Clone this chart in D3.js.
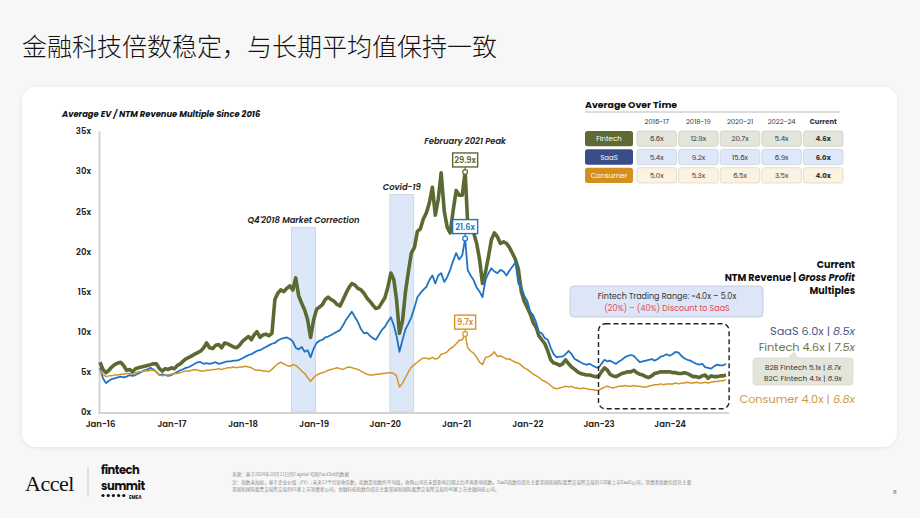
<!DOCTYPE html>
<meta charset="utf-8">
<html>
<head>
    <script src="https://d3js.org/d3.v7.js"></script>
    <style>
        body { margin: 0; background: #f7f7f7; }
        text { font-family: Poppins, Inter, "Noto Sans", sans-serif; }
    </style>
</head>
<body>
<script>
// semi-monthly readings (1st and 16th of each month), Jan 2016 - Oct 2024
var fintech = [
    6.2,5.3,4.9,5.2,5.6,5.9,6.1,6.2,5.8,5.2,5.3,5.0,5.4,5.5,5.6,5.7,5.8,5.9,6.0,6.0,5.4,5.1,5.4,5.3,
    5.5,5.4,5.8,6.0,6.3,6.6,6.8,7.0,7.2,7.4,7.6,8.0,8.6,8.0,7.9,8.3,8.4,8.0,8.6,8.5,8.3,8.1,8.0,8.3,
    8.8,9.1,9.4,9.0,9.6,10.0,9.3,9.6,9.7,9.5,9.8,14.0,14.8,15.2,15.0,15.4,15.7,15.2,16.7,14.5,13.5,12.7,11.5,9.3,
    11.5,12.8,13.1,13.4,14.0,14.3,14.0,13.8,13.4,13.2,14.0,14.8,15.5,16.0,15.8,15.4,15.2,14.8,14.2,13.8,13.3,12.9,13.0,13.6,
    14.2,15.5,17.3,16.5,14.0,9.8,11.4,15.0,17.5,19.8,20.5,22.5,22.8,24.0,24.8,26.0,28.0,24.5,26.5,29.8,25.0,23.0,22.3,25.0,
    27.6,27.0,27.0,29.9,23.5,22.8,22.3,21.0,19.0,16.0,17.5,19.4,21.5,22.3,21.8,21.0,21.2,21.0,20.5,19.8,19.0,17.8,15.0,13.8,
    13.0,12.2,11.1,10.5,9.5,9.0,8.5,7.6,6.5,6.1,6.0,5.8,6.0,6.5,6.0,5.6,5.3,5.0,4.8,4.7,4.6,4.6,4.5,4.4,
    4.4,5.0,5.5,5.2,4.7,4.5,4.4,4.6,4.8,4.9,5.0,5.0,5.2,4.9,4.7,4.6,4.4,4.3,4.5,4.8,4.9,5.0,5.0,5.0,
    5.0,4.9,4.9,4.8,4.8,4.9,4.8,4.6,4.4,4.4,4.3,4.5,4.6,4.2,4.5,4.4,4.4,4.5,4.5,4.6
];
var saas = [
    5.5,4.2,3.6,3.9,4.1,4.2,4.3,4.4,4.3,4.4,4.6,4.5,4.6,4.8,5.0,5.2,5.3,5.5,5.3,5.0,4.6,4.7,4.6,4.5,
    4.6,4.8,5.0,5.2,5.3,5.5,5.6,5.8,6.0,6.2,6.2,6.0,6.1,6.0,6.1,6.2,6.0,6.1,6.2,6.3,6.3,6.4,6.4,6.5,
    6.7,6.9,7.1,7.2,7.4,7.6,7.7,7.9,8.1,8.3,8.5,8.6,8.9,9.1,9.2,9.3,9.1,8.8,8.0,7.8,8.1,7.5,7.7,6.8,
    7.9,8.6,8.9,9.0,9.3,9.4,9.6,9.8,10.0,10.2,10.8,11.5,12.0,12.5,11.8,11.2,10.3,9.8,9.9,9.5,9.2,9.0,9.6,10.2,
    10.6,11.2,11.8,10.8,9.5,7.5,9.0,10.3,11.0,11.8,13.0,14.3,14.8,15.2,15.6,16.4,17.0,16.0,17.0,17.3,16.2,16.8,17.7,18.8,
    19.8,19.0,19.5,21.6,17.7,17.0,16.4,15.5,15.0,14.3,16.5,17.3,17.9,17.5,17.3,17.7,17.5,17.0,17.6,18.1,18.6,16.0,15.6,14.5,
    13.8,12.5,12.0,11.1,10.0,9.8,9.2,9.0,8.0,7.2,6.8,6.9,6.9,7.2,7.6,7.2,6.6,6.4,6.2,6.0,5.9,6.0,5.8,5.6,
    5.5,6.0,6.5,6.3,6.4,6.2,6.0,6.3,6.5,6.8,7.0,7.1,7.0,6.6,6.2,6.3,6.4,6.5,6.6,6.4,6.6,6.9,7.0,7.2,
    7.0,7.2,7.5,7.4,7.0,6.7,6.5,6.4,6.2,6.0,5.9,6.0,5.6,5.5,5.4,5.7,5.9,5.8,5.8,6.0
];
var consumer = [
    5.2,4.7,4.4,4.5,4.5,4.6,4.6,4.7,4.7,4.8,4.8,4.7,4.9,5.0,5.0,5.1,5.1,5.2,5.2,5.0,4.6,4.5,4.6,4.6,
    4.7,4.8,4.8,4.9,5.0,5.1,5.1,5.2,5.3,5.2,5.1,5.1,5.2,5.2,5.3,5.3,5.4,5.3,5.4,5.5,5.5,5.6,5.5,5.6,
    5.6,5.7,5.6,5.5,5.3,5.2,5.2,5.1,5.1,5.0,5.3,5.7,6.0,6.2,6.0,5.8,5.7,5.9,5.8,5.5,5.1,4.8,4.3,3.8,
    4.3,4.6,4.8,4.9,5.0,5.2,5.3,5.4,5.5,5.4,5.3,5.5,5.6,5.5,5.4,5.3,5.1,4.9,4.7,4.6,4.6,4.7,4.7,4.8,
    4.8,4.9,4.9,4.8,4.5,3.1,3.6,4.3,5.0,5.6,5.9,6.2,6.5,6.7,6.7,6.6,6.8,6.6,6.7,7.2,7.3,7.5,7.9,8.1,
    8.5,8.9,9.0,9.7,8.0,7.6,7.3,6.8,6.2,5.9,6.8,6.9,7.1,7.5,6.9,7.0,6.8,6.6,6.6,6.4,6.2,6.1,5.8,5.5,
    5.3,5.0,4.7,4.5,4.3,4.0,3.8,3.6,3.3,3.0,2.9,3.0,3.1,3.2,3.1,3.2,3.0,3.0,2.9,3.0,2.9,2.8,2.8,2.7,
    2.7,2.9,3.1,3.2,3.1,3.0,3.1,3.2,3.2,3.3,3.2,3.2,3.3,3.2,3.2,3.1,3.1,3.2,3.3,3.4,3.4,3.5,3.4,3.5,
    3.5,3.5,3.6,3.5,3.6,3.6,3.7,3.6,3.6,3.7,3.6,3.6,3.7,3.6,3.7,3.8,3.8,3.9,3.9,4.0
];

var yTicks = [0, 5, 10, 15, 20, 25, 30, 35];
var xTickYears = [2016, 2017, 2018, 2019, 2020, 2021, 2022, 2023, 2024];

// table
var tablePeriods = ["2016-17", "2018-19", "2020-21", "2022-24", "Current"];
var tableRows = ["Fintech", "SaaS", "Consumer"];
var fintechAvg = ["6.6x", "12.9x", "20.7x", "5.4x", "4.6x"];
var saasAvg = ["5.4x", "9.2x", "15.6x", "6.9x", "6.0x"];
var consumerAvg = ["5.0x", "5.3x", "6.5x", "3.5x", "4.0x"];

var width = 920, height = 518;
var svg = d3.select("body").append("svg")
    .attr("width", width)
    .attr("height", height);

svg.append("rect").attr("width", width).attr("height", height).attr("fill", "#f7f7f7");

// title
svg.append("text")
    .attr("x", 22).attr("y", 56)
    .style("font-family", "'Noto Sans CJK SC', sans-serif")
    .style("font-weight", 300)
    .style("font-size", "25px")
    .attr("fill", "#111")
    .text("金融科技倍数稳定，与长期平均值保持一致");

// panel
var defs = svg.append("defs");
var filt = defs.append("filter").attr("id", "shadow").attr("x", "-5%").attr("y", "-5%").attr("width", "110%").attr("height", "110%");
filt.append("feDropShadow").attr("dx", 0).attr("dy", 1).attr("stdDeviation", 2).attr("flood-color", "#000").attr("flood-opacity", 0.08);
svg.append("rect")
    .attr("x", 22).attr("y", 87).attr("width", 875).attr("height", 360)
    .attr("rx", 14)
    .attr("fill", "#fff")
    .attr("filter", "url(#shadow)");

// scales
var dates = fintech.map(function(d, i) {
    return new Date(2016, Math.floor(i / 2), i % 2 ? 16 : 1);
});
var x = d3.scaleTime()
    .domain([new Date(2016, 0, 1), new Date(2025, 0, 1)])
    .range([100, 741]);
var y = d3.scaleLinear()
    .domain([0, 35])
    .range([412, 131]);

var chart = svg.append("g");

// shaded events
var bands = [
    {start: new Date(2018, 8, 9), end: new Date(2019, 0, 11), top: 23, label: "Q4'2018 Market Correction", labelY: 23.6},
    {start: new Date(2020, 0, 27), end: new Date(2020, 4, 28), top: 27.1, label: "Covid-19", labelY: 27.7}
];
chart.selectAll(".band")
    .data(bands)
    .join("rect")
    .attr("class", "band")
    .attr("x", function(d) { return x(d.start); })
    .attr("y", function(d) { return y(d.top); })
    .attr("width", function(d) { return x(d.end) - x(d.start); })
    .attr("height", function(d) { return y(0) - y(d.top); })
    .attr("fill", "#dce7f8")
    .attr("stroke", "#c9d2de")
    .attr("stroke-width", 0.8);

chart.selectAll(".bandlabel")
    .data(bands)
    .join("text")
    .attr("class", "bandlabel")
    .attr("x", function(d) { return (x(d.start) + x(d.end)) / 2; })
    .attr("y", function(d) { return y(d.labelY); })
    .attr("text-anchor", "middle")
    .style("font-size", "8.4px")
    .style("font-style", "italic")
    .style("font-weight", 600)
    .attr("fill", "#222")
    .text(function(d) { return d.label; });

chart.append("text")
    .attr("x", x(new Date(2021, 1, 16)))
    .attr("y", y(33.4))
    .attr("text-anchor", "middle")
    .style("font-size", "8.4px")
    .style("font-style", "italic")
    .style("font-weight", 600)
    .attr("fill", "#222")
    .text("February 2021 Peak");

// axes
var yAxis = d3.axisLeft(y).tickValues(yTicks).tickSize(0).tickPadding(8)
    .tickFormat(function(d) { return d + "x"; });
var gy = chart.append("g").attr("transform", "translate(99,0)").call(yAxis);
gy.select(".domain").attr("stroke", "#d4d4d4").attr("stroke-width", 2);
gy.selectAll("text").style("font-family", "Poppins, Inter, sans-serif")
    .style("font-size", "8.5px").style("font-weight", 600).attr("fill", "#222");

var xAxis = d3.axisBottom(x)
    .tickValues(xTickYears.map(function(yr) { return new Date(yr, 0, 1); }))
    .tickSize(0).tickPadding(9)
    .tickFormat(d3.timeFormat("%b-%y"));
var gx = chart.append("g").attr("transform", "translate(0,412)").call(xAxis);
gx.select(".domain").remove();
gx.selectAll("text").style("font-family", "Poppins, Inter, sans-serif")
    .style("font-size", "8.5px").style("font-weight", 600).attr("fill", "#222");
chart.append("line")
    .attr("x1", 98).attr("x2", x(new Date(2024, 10, 1)))
    .attr("y1", 413).attr("y2", 413)
    .attr("stroke", "#d4d4d4").attr("stroke-width", 2);

chart.append("text")
    .attr("x", 62).attr("y", 117)
    .style("font-size", "8.4px")
    .style("font-style", "italic")
    .style("font-weight", 700)
    .attr("fill", "#111")
    .text("Average EV / NTM Revenue Multiple Since 2016");

// lines
var series = [
    {name: "Fintech", values: fintech, color: "#5b6a33", width: 3.6},
    {name: "SaaS", values: saas, color: "#1e74c2", width: 1.8},
    {name: "Consumer", values: consumer, color: "#d4942a", width: 1.5}
];
var line = d3.line()
    .x(function(d, i) { return x(dates[i]); })
    .y(function(d) { return y(d); });

chart.selectAll(".series")
    .data(series)
    .join("path")
    .attr("class", "series")
    .attr("fill", "none")
    .attr("stroke", function(d) { return d.color; })
    .attr("stroke-width", function(d) { return d.width; })
    .attr("stroke-linejoin", "round")
    .attr("d", function(d) { return line(d.values); });

// peak markers
series.forEach(function(s, k) {
    var idx = d3.maxIndex(s.values);
    var px = x(dates[idx]), py = y(s.values[idx]);
    var label = d3.format(".1f")(s.values[idx]) + "x";
    var bw = label.length > 4 ? 25 : 21;
    var g = chart.append("g");
    g.append("line")
        .attr("x1", px).attr("x2", px)
        .attr("y1", py - 2).attr("y2", py - 5)
        .attr("stroke", s.color).attr("stroke-width", 1.2);
    g.append("rect")
        .attr("x", px - bw / 2).attr("y", py - 19)
        .attr("width", bw).attr("height", 14)
        .attr("fill", "#fff")
        .attr("stroke", s.color).attr("stroke-width", 1.4);
    g.append("text")
        .attr("x", px).attr("y", py - 9)
        .attr("text-anchor", "middle")
        .style("font-size", "8.3px")
        .style("font-weight", 600)
        .attr("fill", s.color)
        .text(label);
    g.append("circle")
        .attr("cx", px).attr("cy", py).attr("r", 2.4)
        .attr("fill", "#fff")
        .attr("stroke", s.color).attr("stroke-width", 1.2);
});

// dashed recent window
chart.append("rect")
    .attr("x", x(new Date(2023, 0, 1)))
    .attr("y", y(11))
    .attr("width", x(new Date(2024, 10, 1)) - x(new Date(2023, 0, 1)))
    .attr("height", y(0.4) - y(11))
    .attr("rx", 7)
    .attr("fill", "none")
    .attr("stroke", "#222")
    .attr("stroke-width", 1.4)
    .attr("stroke-dasharray", "5,3");

// trading range callout
svg.append("rect")
    .attr("x", 570).attr("y", 286).attr("width", 193).attr("height", 31)
    .attr("rx", 4)
    .attr("fill", "#dde6f6")
    .attr("stroke", "#c3cde0");
svg.append("text")
    .attr("x", 667).attr("y", 299)
    .attr("text-anchor", "middle")
    .style("font-size", "8px")
    .attr("fill", "#333")
    .text("Fintech Trading Range: ~4.0x \u2013 5.0x");
svg.append("text")
    .attr("x", 667).attr("y", 310.5)
    .attr("text-anchor", "middle")
    .style("font-size", "8px")
    .attr("fill", "#e5484f")
    .text("(20%) \u2013 (40%) Discount to SaaS");

// right side current multiples
var rg = svg.append("g").attr("text-anchor", "end");
rg.append("text").attr("x", 855).attr("y", 268)
    .style("font-size", "9.6px").style("font-weight", 700).attr("fill", "#111")
    .text("Current");
var t2 = rg.append("text").attr("x", 855).attr("y", 281)
    .style("font-size", "9.6px").style("font-weight", 700).attr("fill", "#111");
t2.append("tspan").text("NTM Revenue | ");
t2.append("tspan").style("font-style", "italic").text("Gross Profit");
rg.append("text").attr("x", 855).attr("y", 294)
    .style("font-size", "9.6px").style("font-weight", 700).attr("fill", "#111")
    .text("Multiples");

var currentLabels = [
    {name: "SaaS", rev: "6.0x", gp: "8.5x", color: "#4d5b8a", y: 335},
    {name: "Fintech", rev: "4.6x", gp: "7.5x", color: "#6d7548", y: 351},
    {name: "Consumer", rev: "4.0x", gp: "6.8x", color: "#cf9a45", y: 403}
];
currentLabels.forEach(function(c) {
    var t = rg.append("text").attr("x", 855).attr("y", c.y)
        .style("font-size", "11.3px").attr("fill", c.color);
    t.append("tspan").text(c.name + " " + c.rev + " | ");
    t.append("tspan").style("font-style", "italic").text(c.gp);
});

// B2B / B2C callout
svg.append("path")
    .attr("d", "M756,358 H788 L794,352 L798,358 H850 Q853,358 853,361 V382 Q853,385 850,385 H756 Q753,385 753,382 V361 Q753,358 756,358 Z")
    .attr("fill", "#e4e5da")
    .attr("stroke", "#d2d3c8")
    .attr("stroke-width", 0.6);
var subLabels = [
    {name: "B2B Fintech", rev: "5.1x", gp: "8.7x", y: 370},
    {name: "B2C Fintech", rev: "4.1x", gp: "6.9x", y: 380.5}
];
subLabels.forEach(function(c) {
    var t = svg.append("text").attr("x", 803).attr("y", c.y)
        .attr("text-anchor", "middle")
        .style("font-size", "7.4px").attr("fill", "#333");
    t.append("tspan").text(c.name + " " + c.rev + " | ");
    t.append("tspan").style("font-style", "italic").text(c.gp);
});

// table
var tg = svg.append("g");
tg.append("text").attr("x", 585).attr("y", 108)
    .style("font-size", "9.4px").style("font-weight", 700).attr("fill", "#111")
    .text("Average Over Time");
tg.append("line").attr("x1", 585).attr("x2", 840).attr("y1", 112).attr("y2", 112)
    .attr("stroke", "#aaa").attr("stroke-width", 0.8);

var colX = d3.scaleBand().domain(tablePeriods).range([637, 843]).paddingInner(0.05);
var rowY = d3.scaleBand().domain(tableRows).range([131, 183]).paddingInner(0.17);
tg.selectAll(".hdr")
    .data(tablePeriods)
    .join("text")
    .attr("class", "hdr")
    .attr("x", function(d) { return colX(d) + colX.bandwidth() / 2; })
    .attr("y", 124)
    .attr("text-anchor", "middle")
    .style("font-size", "6.8px")
    .style("font-weight", function(d) { return d === "Current" ? 700 : 400; })
    .attr("fill", "#333")
    .text(function(d) { return d; });

var tableData = [
    {row: "Fintech", vals: fintechAvg, dark: "#5e6a33", light: "#e3e5db", edge: "#c9cbbf"},
    {row: "SaaS", vals: saasAvg, dark: "#3a4d87", light: "#dfe8f8", edge: "#c6cedc"},
    {row: "Consumer", vals: consumerAvg, dark: "#d4901d", light: "#fcf2e1", edge: "#dcd3c3"}
];
tableData.forEach(function(r) {
    var ry = rowY(r.row), rh = rowY.bandwidth();
    tg.append("rect").attr("x", 585).attr("y", ry).attr("width", 48).attr("height", rh)
        .attr("rx", 2.5).attr("fill", r.dark);
    tg.append("text").attr("x", 609).attr("y", ry + rh / 2 + 2.6)
        .attr("text-anchor", "middle").style("font-size", "7px").attr("fill", "#fff")
        .text(r.row);
    r.vals.forEach(function(v, i) {
        var p = tablePeriods[i];
        tg.append("rect").attr("x", colX(p)).attr("y", ry)
            .attr("width", colX.bandwidth()).attr("height", rh)
            .attr("rx", 2.5).attr("fill", r.light).attr("stroke", r.edge).attr("stroke-width", 0.7);
        tg.append("text").attr("x", colX(p) + colX.bandwidth() / 2).attr("y", ry + rh / 2 + 2.6)
            .attr("text-anchor", "middle")
            .style("font-size", "7px")
            .style("font-weight", p === "Current" ? 700 : 400)
            .attr("fill", "#333")
            .text(v);
    });
});

// footer
svg.append("text").attr("x", 25).attr("y", 491)
    .style("font-family", "'Liberation Serif', 'DejaVu Serif', serif")
    .style("font-size", "22px").style("letter-spacing", "-0.5px").attr("fill", "#111")
    .text("Accel");
svg.append("line").attr("x1", 88).attr("x2", 88).attr("y1", 468).attr("y2", 497)
    .attr("stroke", "#bbb").attr("stroke-width", 0.8);
svg.append("text").attr("x", 101).attr("y", 474)
    .style("font-size", "11.5px").style("font-weight", 700).style("letter-spacing", "-0.5px").attr("fill", "#111")
    .text("fintech");
svg.append("text").attr("x", 101).attr("y", 489.5)
    .style("font-size", "11.5px").style("font-weight", 700).style("letter-spacing", "-0.5px").attr("fill", "#111")
    .text("summit");
[0, 1, 2, 3, 4].forEach(function(i) {
    svg.append("circle").attr("cx", 103 + i * 5.2).attr("cy", 495.5).attr("r", 1.6).attr("fill", "#111");
});
svg.append("text").attr("x", 129).attr("y", 498.5)
    .style("font-size", "4.6px").style("font-weight", 700).attr("fill", "#111")
    .text("EMEA");

var footnotes = [
    "来源：基于2024年10月11日的Capital IQ和FactSet的数据",
    "注：指数未加权，基于企业价值（EV）/未来12个月营收倍数，指数是指数的平均值，收购公司在未受影响日期之后不再影响指数。SaaS指数包括在主要美国和国际股票交易所交易的120家上市SaaS公司，消费者指数包括在主要",
    "美国和国际股票交易所交易的61家上市消费者公司，金融科技指数包括在主要美国和国际股票交易所交易的46家上市金融科技公司。"
];
svg.selectAll(".fn")
    .data(footnotes)
    .join("text")
    .attr("class", "fn")
    .attr("x", 232)
    .attr("y", function(d, i) { return 476 + i * 7.6; })
    .style("font-family", "'Noto Sans CJK SC', sans-serif")
    .style("font-size", "4.6px")
    .attr("fill", "#888")
    .text(function(d) { return d; });

svg.append("text").attr("x", 893).attr("y", 494)
    .style("font-family", "'Liberation Serif', serif")
    .style("font-size", "7px").attr("fill", "#666")
    .text("8");
</script>
</body>
</html>
